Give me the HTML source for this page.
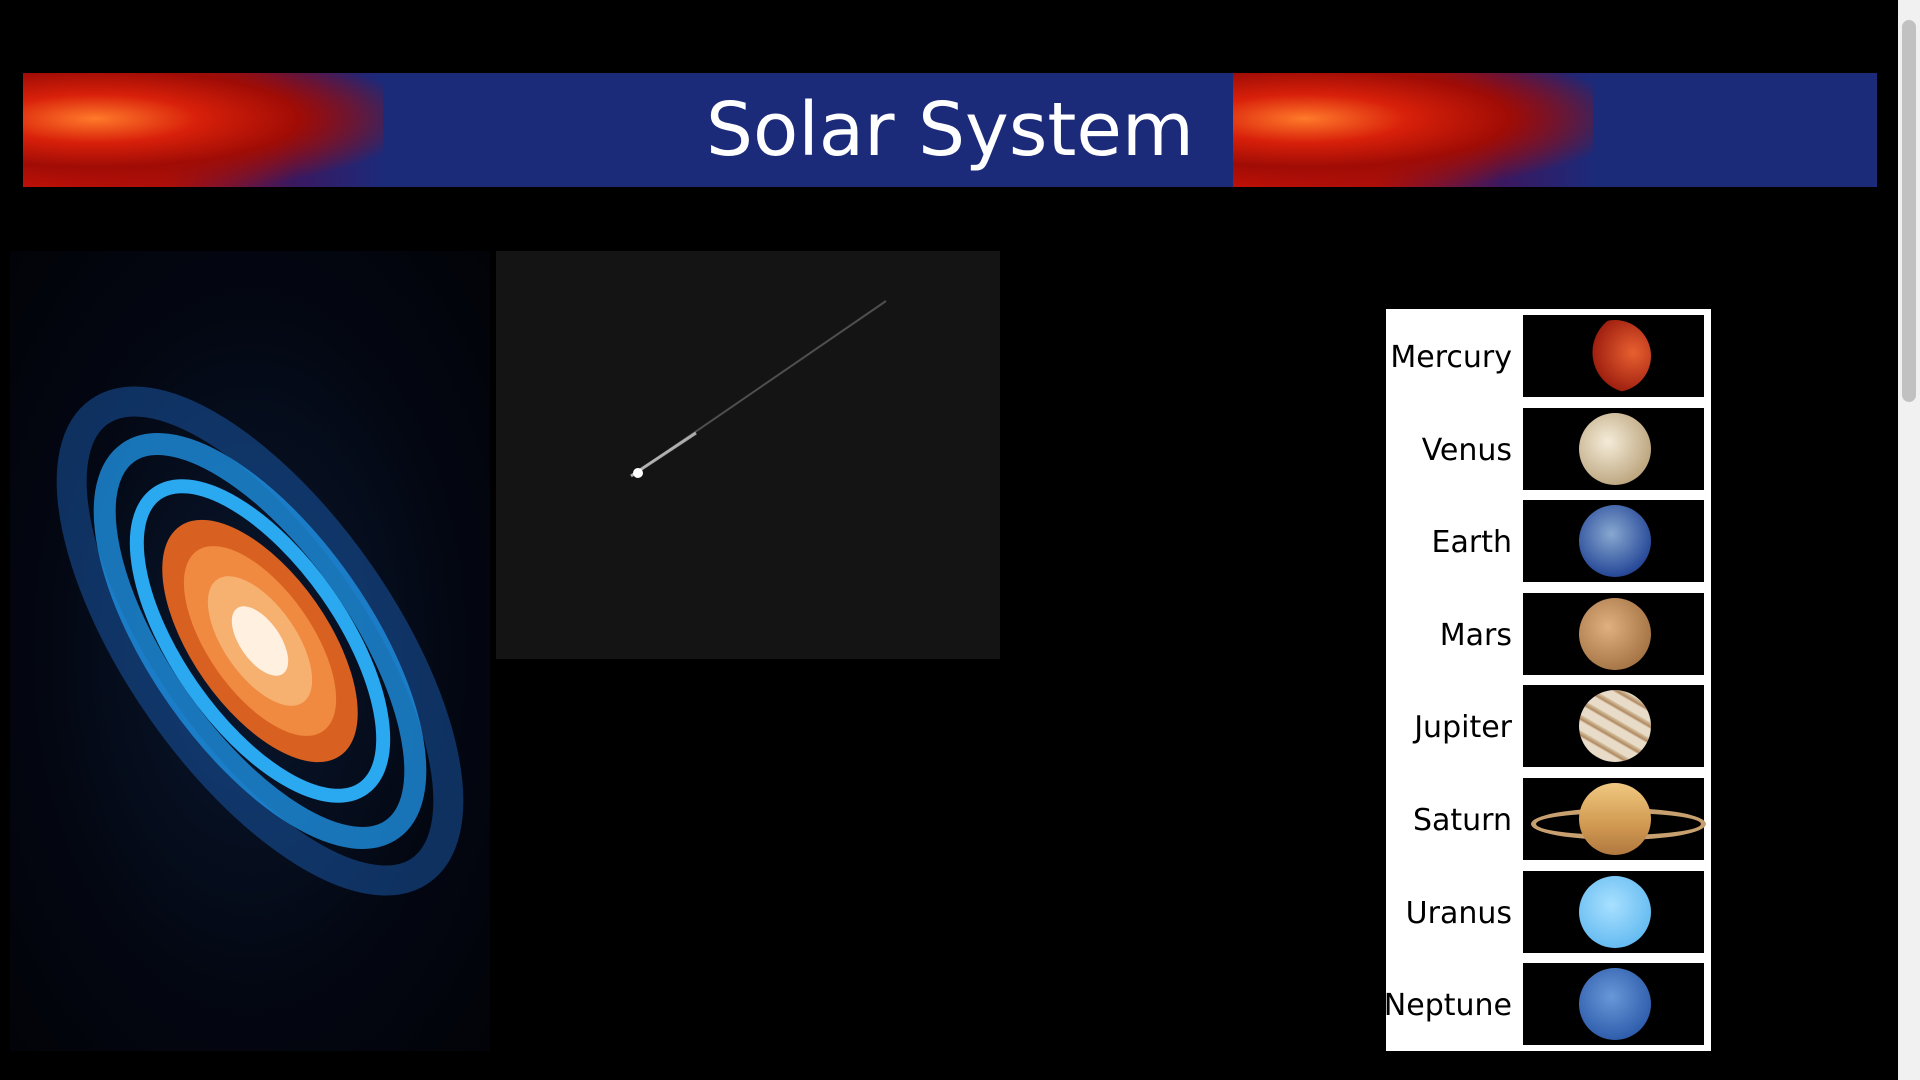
<!DOCTYPE html>
<html><head><meta charset="utf-8"><style>
html,body{margin:0;padding:0;background:#000;width:1920px;height:1080px;overflow:hidden;font-family:"DejaVu Sans","Liberation Sans",sans-serif}
.abs{position:absolute}
#banner{left:23px;top:73px;width:1854px;height:114px;overflow:hidden;background:#1c2a7a;}
.flare{position:absolute;top:0;height:114px;width:360px;
background:radial-gradient(ellipse at 20% 40%,#ff7a2a 0,#d8200a 25%,#a00c05 50%,rgba(60,10,60,0) 80%),linear-gradient(90deg,#c81208 0,#b0100a 40%,#3a1860 75%,#1c2a7a 100%)}
#title{left:0;width:1854px;top:0;height:114px;line-height:114px;text-align:center;color:#fff;font-size:74px;}
#scroll{left:1898px;top:0;width:22px;height:1080px;background:#f1f1f1}
#thumb{left:1902px;top:20px;width:14px;height:382px;background:#c1c1c1;border-radius:7px}
#galaxy{left:10px;top:251px;width:480px;height:800px;background:radial-gradient(ellipse at 50% 50%,#0a1830 0,#030712 60%,#020308 100%)}
#comet{left:496px;top:251px;width:504px;height:408px;background:#141414}
#table{left:1386px;top:309px;width:325px;height:742px;background:#fff}
.row{position:absolute;left:0;width:325px;height:92.6px}
.lbl{position:absolute;right:199px;top:3px;height:92.6px;line-height:92.6px;font-size:30px;color:#000}
.pic{position:absolute;left:137px;top:6px;width:181px;height:82px;background:#000}
.pl{position:absolute;left:56px;top:5px;width:72px;height:72px;border-radius:50%}
</style></head><body>
<div id="banner" class="abs">
 <div class="flare" style="left:0"></div>
 <div class="flare" style="left:1210px"></div>
 <div id="title" class="abs">Solar System</div>
</div>
<div id="galaxy" class="abs">
<svg width="480" height="800" viewBox="0 0 480 800">
 <g transform="translate(250,390) rotate(55)">
  <ellipse rx="280" ry="120" fill="none" stroke="#1a5cb0" stroke-width="30" opacity="0.5"/>
  <ellipse rx="230" ry="100" fill="none" stroke="#1e90e0" stroke-width="22" opacity="0.8"/>
  <ellipse rx="180" ry="82" fill="none" stroke="#2aa8f0" stroke-width="14"/>
  <ellipse rx="140" ry="68" fill="#d86020"/>
  <ellipse rx="110" ry="52" fill="#f08a40"/>
  <ellipse rx="75" ry="36" fill="#f6b070"/>
  <ellipse rx="40" ry="20" fill="#fff0e0"/>
 </g>
</svg></div>
<div id="comet" class="abs">
<svg width="504" height="408"><line x1="135" y1="225" x2="390" y2="50" stroke="#888" stroke-width="2" opacity="0.5"/><line x1="135" y1="225" x2="200" y2="182" stroke="#ccc" stroke-width="3" opacity="0.8"/><circle cx="142" cy="222" r="5" fill="#fff"/></svg></div>
<div id="table" class="abs">
 <div class="row" style="top:0"><div class="lbl">Mercury</div><div class="pic"><div class="pl" style="background:radial-gradient(circle at 75% 45%,#e86030,#a02010 60%,#000 61%)"></div></div></div>
 <div class="row" style="top:92.6px"><div class="lbl">Venus</div><div class="pic"><div class="pl" style="background:radial-gradient(circle at 40% 40%,#f4ecd8,#b8a078 80%)"></div></div></div>
 <div class="row" style="top:185.2px"><div class="lbl">Earth</div><div class="pic"><div class="pl" style="background:radial-gradient(circle at 45% 40%,#88a8d0,#2a4c9a 70%,#102060)"></div></div></div>
 <div class="row" style="top:277.8px"><div class="lbl">Mars</div><div class="pic"><div class="pl" style="background:radial-gradient(circle at 40% 40%,#e0b080,#a07040 80%)"></div></div></div>
 <div class="row" style="top:370.4px"><div class="lbl">Jupiter</div><div class="pic"><div class="pl" style="background:repeating-linear-gradient(30deg,#e8dcc8 0,#e8dcc8 8px,#b08860 10px,#d8c8a8 14px)"></div></div></div>
 <div class="row" style="top:463px"><div class="lbl">Saturn</div><div class="pic"><div style="position:absolute;left:8px;top:30px;width:165px;height:22px;border-radius:50%;border:5px solid #c8a070"></div><div class="pl" style="background:linear-gradient(#f0c880,#d09850 60%,#b07840)"></div></div></div>
 <div class="row" style="top:555.6px"><div class="lbl">Uranus</div><div class="pic"><div class="pl" style="background:radial-gradient(circle at 45% 40%,#a8e0ff,#60b8f0 80%)"></div></div></div>
 <div class="row" style="top:648.2px"><div class="lbl">Neptune</div><div class="pic"><div class="pl" style="background:radial-gradient(circle at 45% 40%,#6898d8,#2a58a8 80%)"></div></div></div>
</div>
<div id="scroll" class="abs"></div>
<div id="thumb" class="abs"></div>
</body></html>
